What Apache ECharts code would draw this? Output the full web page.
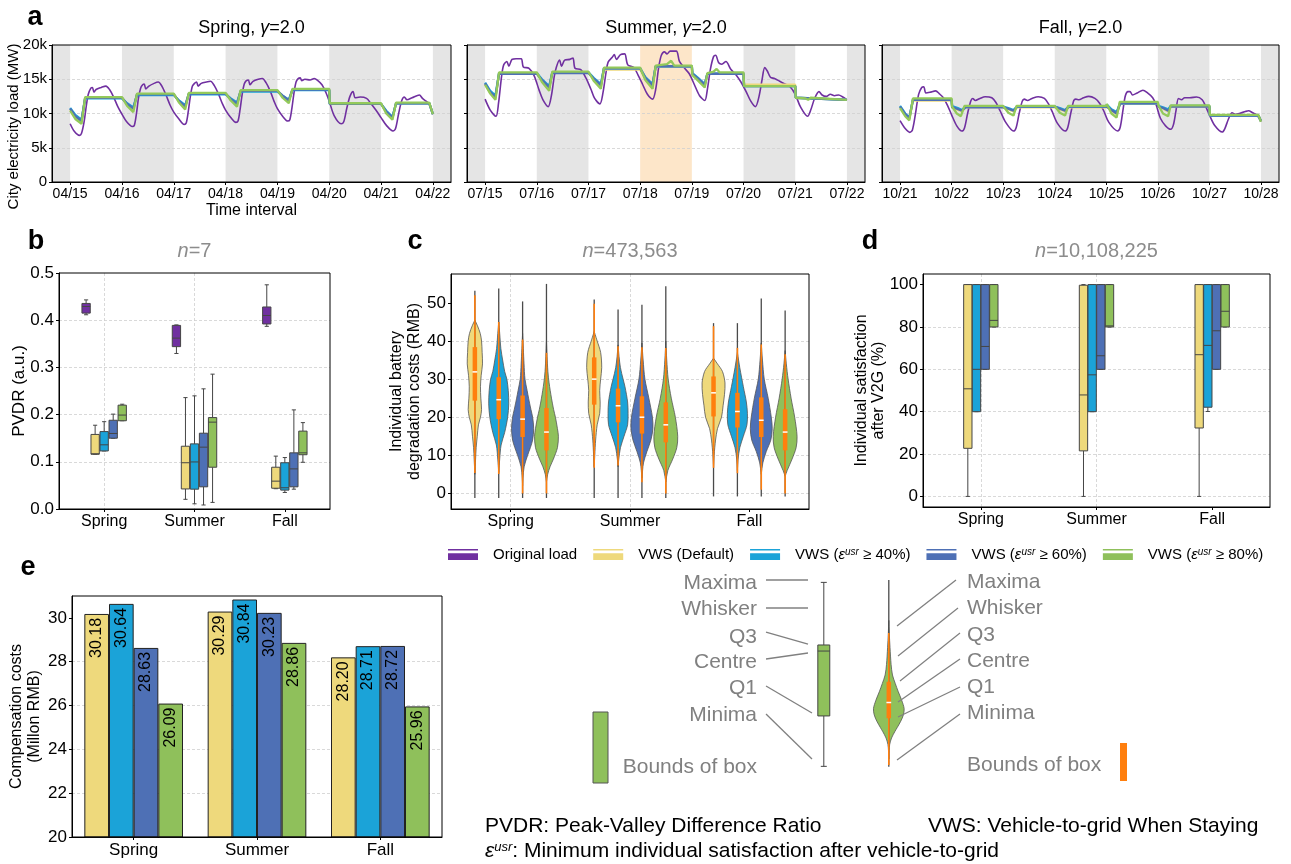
<!DOCTYPE html>
<html><head><meta charset="utf-8">
<script src="https://cdn.jsdelivr.net/npm/echarts@6/dist/echarts.min.js"></script>
<style>html,body{margin:0;padding:0;background:#fff}#c{width:1291px;height:864px}</style>
</head><body><div id="c"></div>
<script>
// ================= DATA =================
const seasons = ['Spring', 'Summer', 'Fall'];
const springDays = ['04/15','04/16','04/17','04/18','04/19','04/20','04/21','04/22'];
const summerDays = ['07/15','07/16','07/17','07/18','07/19','07/20','07/21','07/22'];
const fallDays = ['10/21','10/22','10/23','10/24','10/25','10/26','10/27','10/28'];
const dayTicks = [0,1,2,3,4,5,6,7];
// alternate day shading (in days) and highlighted day for summer
const greyBands = [[-0.35,0],[1,2],[3,4],[5,6],[7,7.35]];
const summerHighlight = [3,4];

// load curves (day, thousand MW)
const springOriginal = [[0,8.5],[0.08,7.4],[0.18,6.8],[0.22,7.1],[0.27,8.8],[0.31,11.0],[0.35,12.8],[0.40,13.7],[0.43,13.8],[0.46,13.1],[0.5,13.5],[0.6,13.8],[0.69,14.0],[0.76,13.5],[0.84,12.4],[0.92,11.0],
[1.0,9.9],[1.08,8.9],[1.2,8.1],[1.24,8.3],[1.28,10.0],[1.32,12.3],[1.36,13.7],[1.40,14.2],[1.43,14.3],[1.46,13.6],[1.52,14.0],[1.62,14.4],[1.70,14.6],[1.77,14.0],[1.85,12.7],[1.93,11.2],
[2.0,10.2],[2.1,9.2],[2.2,8.4],[2.24,8.6],[2.28,10.3],[2.32,12.5],[2.36,14.0],[2.40,14.4],[2.44,14.6],[2.47,14.0],[2.53,14.4],[2.63,14.6],[2.71,14.7],[2.78,14.1],[2.86,12.9],[2.94,11.4],
[3.0,10.5],[3.1,9.4],[3.2,8.7],[3.24,8.9],[3.28,10.6],[3.32,12.8],[3.36,14.3],[3.40,14.8],[3.44,14.9],[3.47,14.2],[3.53,14.7],[3.63,15.0],[3.71,15.1],[3.78,14.5],[3.86,13.3],[3.94,11.7],
[4.0,10.7],[4.1,9.6],[4.2,8.9],[4.24,9.1],[4.28,10.8],[4.32,13.0],[4.36,14.6],[4.40,15.1],[4.44,15.2],[4.47,14.8],[4.53,15.0],[4.63,14.9],[4.71,15.1],[4.78,14.8],[4.86,14.2],[4.94,13.0],
[5.0,11.8],[5.1,9.6],[5.23,8.5],[5.28,8.8],[5.34,10.8],[5.40,12.5],[5.46,13.2],[5.50,12.3],[5.6,12.4],[5.72,12.2],[5.80,11.5],[5.9,10.5],
[6.0,9.4],[6.1,8.3],[6.23,7.45],[6.28,7.8],[6.34,10.0],[6.40,11.9],[6.45,12.4],[6.5,12.0],[6.6,12.3],[6.74,12.7],[6.8,12.2],[6.87,11.8],[6.93,11.4],[7.0,9.9]];
const springDefault = [[0,10.6],[0.1,9.5],[0.22,8.8],[0.29,12.3],[1,12.3],[1.1,11.3],[1.22,10.5],[1.29,12.8],[2,12.8],[2.1,11.8],[2.22,10.9],[2.29,12.9],[3,12.9],[3.1,12.0],[3.22,11.3],[3.29,13.3],[4,13.3],[4.1,12.5],[4.22,11.8],[4.29,13.5],[5,13.5],[5.01,11.4],[6,11.4],[6.1,10.2],[6.22,9.3],[6.29,11.5],[6.93,11.5],[7,9.9]];
const spring40 = [[0,10.8],[0.1,9.8],[0.22,9.1],[0.29,12.2],[1,12.2],[1.1,11.5],[1.22,10.9],[1.29,12.7],[2,12.7],[2.1,11.9],[2.22,11.2],[2.29,12.8],[3,12.8],[3.1,12.2],[3.22,11.6],[3.29,13.2],[4,13.2],[4.1,12.6],[4.22,12.0],[4.29,13.4],[5,13.4],[5.01,11.4],[6,11.4],[6.1,10.4],[6.22,9.5],[6.29,11.5],[6.93,11.5],[7,9.9]];
const spring60 = [[0,10.7],[0.1,9.6],[0.22,8.9],[0.29,12.3],[1,12.3],[1.1,11.4],[1.22,10.7],[1.29,12.8],[2,12.8],[2.1,11.8],[2.22,11.0],[2.29,12.9],[3,12.9],[3.1,12.1],[3.22,11.4],[3.29,13.3],[4,13.3],[4.1,12.6],[4.22,11.9],[4.29,13.5],[5,13.5],[5.01,11.4],[6,11.4],[6.1,10.3],[6.22,9.4],[6.29,11.5],[6.93,11.5],[7,9.9]];
const spring80 = [[0,10.4],[0.1,9.2],[0.22,8.5],[0.29,12.4],[1,12.4],[1.1,11.1],[1.22,10.2],[1.29,12.9],[2,12.9],[2.1,11.6],[2.22,10.6],[2.29,13.0],[3,13.0],[3.1,11.9],[3.22,11.0],[3.29,13.4],[4,13.4],[4.1,12.3],[4.22,11.5],[4.29,13.6],[5,13.6],[5.01,11.5],[6,11.5],[6.1,10.0],[6.22,9.1],[6.29,11.6],[6.93,11.6],[7,9.9]];

const summerOriginal = [[0,12.1],[0.1,10.5],[0.21,9.6],[0.26,11.5],[0.32,15.5],[0.36,17.1],[0.42,17.6],[0.46,16.9],[0.52,17.9],[0.6,18.0],[0.7,18.0],[0.74,16.8],[0.85,16.6],[0.95,15.5],[1.05,13.3],[1.12,12.0],[1.22,11.0],
[1.28,12.5],[1.34,15.5],[1.38,16.8],[1.44,17.8],[1.48,16.9],[1.54,17.8],[1.64,17.9],[1.70,18.1],[1.74,16.6],[1.85,16.4],[1.95,15.2],[2.05,13.5],[2.12,12.2],[2.22,11.4],
[2.28,13.0],[2.34,16.0],[2.38,17.5],[2.46,18.2],[2.5,18.6],[2.54,17.9],[2.62,18.6],[2.70,18.7],[2.76,17.1],[2.88,16.7],[2.96,15.6],[3.05,14.2],[3.14,12.8],[3.24,12.1],
[3.3,13.5],[3.36,16.8],[3.41,18.5],[3.47,19.0],[3.52,18.7],[3.58,19.1],[3.7,19.1],[3.76,17.6],[3.85,16.7],[3.95,15.8],[4.05,14.2],[4.15,12.6],[4.25,11.9],
[4.3,13.5],[4.36,16.5],[4.42,18.3],[4.46,18.5],[4.52,17.4],[4.58,17.2],[4.66,17.6],[4.75,16.5],[4.86,15.6],[4.95,14.6],[5.05,13.2],[5.14,11.8],[5.23,11.0],
[5.3,12.5],[5.36,15.0],[5.41,16.7],[5.46,16.2],[5.52,15.3],[5.6,15.1],[5.7,14.7],[5.8,14.3],[5.9,13.9],[6.0,12.8],[6.1,11.0],[6.24,9.6],
[6.3,10.5],[6.38,12.3],[6.46,13.2],[6.52,12.7],[6.6,12.5],[6.68,12.8],[6.76,12.6],[6.84,12.7],[6.92,12.4],[7.0,12.0]];
const summerDefault = [[0,14.3],[0.1,13.0],[0.2,12.2],[0.27,15.9],[1,15.9],[1.1,14.8],[1.24,13.6],[1.3,16.0],[2,16.0],[2.1,15.0],[2.24,13.9],[2.3,16.4],[3,16.4],[3.1,15.1],[3.24,13.9],[3.3,16.8],[4,16.8],[4.01,15.8],[4.12,15.0],[4.25,14.0],[4.3,15.8],[5,15.8],[5.01,14.2],[6,14.2],[6.01,12.3],[7,12.0]];
const summer40 = [[0,14.5],[0.1,13.3],[0.2,12.6],[0.27,15.9],[1,15.9],[1.1,15.0],[1.24,14.0],[1.3,16.0],[2,16.0],[2.1,15.2],[2.24,14.3],[2.3,16.6],[3,16.6],[3.1,15.3],[3.24,14.3],[3.3,16.9],[4,16.9],[4.01,15.9],[4.12,15.2],[4.25,14.3],[4.3,15.8],[5,15.8],[5.01,14.0],[6,14.0],[6.01,12.3],[7,12.0]];
const summer60 = [[0,14.4],[0.1,13.1],[0.2,12.4],[0.27,15.8],[1,15.8],[1.1,14.9],[1.24,13.8],[1.3,15.9],[2,15.9],[2.1,15.1],[2.24,14.1],[2.3,16.6],[3,16.6],[3.1,15.2],[3.24,14.1],[3.3,16.9],[4,16.9],[4.01,15.8],[4.12,15.1],[4.25,14.2],[4.3,15.8],[5,15.8],[5.01,14.0],[6,14.0],[6.01,12.3],[7,12.0]];
const summer80 = [[0,14.2],[0.1,12.9],[0.2,12.0],[0.27,16.0],[1,16.0],[1.1,14.6],[1.24,13.3],[1.3,16.1],[2,16.1],[2.1,14.8],[2.24,13.6],[2.3,16.7],[3,16.7],[3.1,14.9],[3.24,13.6],[3.3,17.0],[3.52,17.2],[3.6,17.7],[3.66,17.0],[4,17.0],[4.01,15.6],[4.12,14.8],[4.25,13.8],[4.3,15.9],[4.42,16.1],[4.48,16.5],[4.54,16.0],[5,16.0],[5.01,14.0],[6,14.0],[6.01,12.3],[6.2,12.2],[6.25,12.0],[6.3,12.3],[7,12.0]];

const fallOriginal = [[0,8.95],[0.1,7.8],[0.19,7.25],[0.24,7.6],[0.3,10.0],[0.36,12.8],[0.42,13.8],[0.46,13.9],[0.5,13.0],[0.58,13.1],[0.69,13.3],[0.76,12.9],[0.84,12.3],[0.92,11.2],[1.0,9.8],[1.1,8.2],[1.2,7.45],
[1.25,7.9],[1.31,10.0],[1.37,11.8],[1.41,12.2],[1.46,11.9],[1.55,12.2],[1.65,12.45],[1.78,12.3],[1.86,11.6],[1.94,10.4],[2.05,8.7],[2.2,7.45],
[2.25,7.9],[2.31,10.0],[2.37,11.8],[2.41,12.1],[2.47,11.9],[2.56,12.2],[2.68,12.45],[2.8,12.2],[2.88,11.4],[2.95,10.3],[3.05,8.6],[3.2,7.45],
[3.25,7.9],[3.31,10.0],[3.37,11.9],[3.41,12.1],[3.47,12.0],[3.56,12.3],[3.66,12.5],[3.78,12.2],[3.87,11.5],[3.95,10.4],[4.05,8.7],[4.22,7.45],
[4.27,8.0],[4.32,10.3],[4.37,12.6],[4.42,13.2],[4.46,13.2],[4.51,12.7],[4.6,13.0],[4.71,13.4],[4.8,13.0],[4.9,12.3],[4.97,11.2],[5.05,9.3],[5.15,8.2],[5.25,7.7],
[5.3,8.3],[5.35,10.3],[5.4,12.2],[5.46,12.0],[5.52,12.3],[5.62,12.3],[5.75,12.4],[5.86,12.0],[5.93,11.0],[6.0,9.8],[6.1,8.3],[6.25,7.3],
[6.3,7.8],[6.37,9.2],[6.44,10.1],[6.5,9.9],[6.58,10.0],[6.7,10.3],[6.76,10.4],[6.84,10.1],[6.92,9.8],[7.0,8.8]];
const fallDefault = [[0,11.0],[0.1,9.8],[0.18,9.2],[0.25,11.9],[1,11.9],[1.01,10.9],[1.1,10.6],[1.2,10.3],[1.27,10.9],[2,10.9],[2.1,10.6],[2.2,10.3],[2.27,10.9],[3,10.9],[3.1,10.6],[3.2,10.3],[3.27,10.9],[4,10.9],[4.01,11.2],[4.1,10.4],[4.2,9.9],[4.27,11.4],[5,11.4],[5.01,11.0],[5.1,10.7],[5.2,10.3],[5.25,11.0],[6,11.0],[6.01,9.7],[6.95,9.7],[7,8.9]];
const fall40 = [[0,11.1],[0.1,10.0],[0.18,9.4],[0.25,12.0],[1,12.0],[1.01,11.1],[1.12,10.8],[1.2,10.5],[1.27,11.0],[2,11.0],[2.1,10.8],[2.2,10.5],[2.27,11.0],[3,11.0],[3.1,10.8],[3.2,10.5],[3.27,11.0],[4,11.0],[4.01,11.3],[4.1,10.6],[4.2,10.2],[4.27,11.5],[5,11.5],[5.01,11.1],[5.1,10.9],[5.2,10.6],[5.25,11.1],[6,11.1],[6.01,9.7],[6.95,9.7],[7,8.9]];
const fall60 = [[0,11.0],[0.1,9.9],[0.18,9.3],[0.25,12.0],[1,12.0],[1.01,10.9],[1.1,10.7],[1.2,10.4],[1.27,10.9],[2,10.9],[2.1,10.7],[2.2,10.4],[2.27,11.0],[3,11.0],[3.1,10.7],[3.2,10.4],[3.27,11.0],[4,11.0],[4.01,11.2],[4.1,10.5],[4.2,10.0],[4.27,11.5],[5,11.5],[5.01,11.0],[5.1,10.8],[5.2,10.4],[5.25,11.0],[6,11.0],[6.01,9.7],[6.95,9.7],[7,8.9]];
const fall80 = [[0,10.8],[0.1,9.6],[0.18,9.0],[0.25,12.2],[1,12.2],[1.01,11.0],[1.1,10.0],[1.18,9.6],[1.25,11.1],[2,11.1],[2.1,10.1],[2.2,9.7],[2.26,11.1],[3,11.1],[3.1,10.1],[3.2,9.7],[3.26,11.1],[4,11.1],[4.01,11.4],[4.1,10.0],[4.2,9.4],[4.26,11.7],[5,11.7],[5.01,11.2],[5.1,10.0],[5.2,9.6],[5.25,11.2],[6,11.2],[6.01,9.8],[6.95,9.8],[7,8.8]];

// b: PVDR box stats per season [min, q1, median, q3, max]
const pvdrOriginal = [[0.4115,0.415,0.429,0.4355,0.443],[0.3295,0.344,0.362,0.389,0.390],[0.387,0.392,0.410,0.428,0.475]];
const pvdrDefault  = [[0.116,0.116,0.117,0.158,0.1775],[0.0205,0.0425,0.098,0.133,0.236],[0.043,0.044,0.059,0.0885,0.112]];
const pvdr40       = [[0.123,0.123,0.136,0.164,0.185],[0.011,0.042,0.0997,0.138,0.2397],[0.035,0.040,0.045,0.098,0.109]];
const pvdr60       = [[0.150,0.150,0.160,0.188,0.201],[0.0085,0.047,0.131,0.1606,0.2546],[0.042,0.047,0.085,0.119,0.210]];
const pvdr80       = [[0.187,0.187,0.199,0.220,0.222],[0.014,0.0885,0.184,0.1937,0.2857],[0.099,0.115,0.119,0.165,0.183]];

// c: degradation cost violins [whiskLo, q1, median, q3, whiskHi, min, max]
const costDefaultStats = [[5.35,24.35,31.9,38.4,52.0,-1.2,53.2],[6.7,23.3,30.0,35.7,49.8,-1.2,50.9],[6.7,20.2,26.4,30.7,43.9,-0.8,44.7]];
const cost40Stats      = [[5.1,19.5,24.6,30.5,45.0,-1.2,53.8],[7.3,18.65,23.0,27.5,38.6,-1.2,48.3],[5.3,17.3,21.5,26.4,38.2,-0.8,44.7]];
const cost60Stats      = [[0,14.8,19.5,25.7,40.4,-1.2,50.4],[2.9,15.7,20.0,25.5,38.4,-1.2,49.5],[0.97,14.8,19.2,25.2,39.1,-0.8,51.2]];
const cost80Stats      = [[0,11.3,16.1,22.4,36.9,-1.2,55.0],[0,13.4,18.0,23.9,38.2,-1.2,54.4],[0,11.3,16.1,22.1,36.5,-0.8,48.0]];
// density profiles [cost, relative half-width]
const costDefaultShape = [
 [[45.5,0],[44,0.22],[42,0.45],[40,0.56],[37,0.61],[34,0.64],[31,0.53],[28,0.47],[25,0.5],[22,0.56],[20,0.47],[18,0.3],[15,0.2],[12,0.11],[9,0.06],[5,0]],
 [[42.5,0],[41,0.15],[40,0.25],[37,0.54],[33,0.63],[30,0.54],[27,0.46],[24,0.5],[21,0.46],[18,0.25],[14,0.12],[10,0.05],[7,0]],
 [[35.5,0],[34,0.33],[32,0.75],[29,0.96],[26,0.92],[23,0.8],[20,0.67],[17,0.33],[14,0.17],[10,0.05],[7,0]]];
const cost40Shape = [
 [[45,0],[42,0.08],[38,0.18],[35,0.33],[32,0.5],[30,0.68],[27,0.8],[23.5,0.84],[20,0.75],[16,0.5],[12.7,0.2],[9,0.08],[5.5,0]],
 [[39,0],[36,0.08],[33,0.2],[30,0.42],[28,0.58],[24,0.8],[21,0.84],[18,0.8],[15,0.5],[12,0.2],[9,0.06],[7,0]],
 [[37,0],[33,0.2],[28,0.5],[24,0.75],[21,0.84],[18,0.8],[15,0.5],[12,0.2],[9,0.06],[6,0]]];
const cost60Shape = [
 [[42,0],[38,0.06],[34,0.12],[30,0.2],[27,0.38],[25,0.5],[22,0.7],[20,0.84],[17,0.93],[14,0.84],[12,0.65],[10,0.42],[7,0.13],[4,0.03],[2,0]],
 [[39.5,0],[35,0.1],[30,0.25],[25,0.58],[20,0.88],[17,0.92],[14,0.75],[11,0.42],[8,0.13],[4,0]],
 [[39.5,0],[35,0.1],[30,0.25],[25,0.58],[20,0.84],[17,0.92],[14,0.8],[11,0.42],[8,0.13],[5,0]]];
const cost80Shape = [
 [[40,0],[36,0.05],[32,0.12],[29,0.22],[25,0.42],[22,0.6],[20,0.75],[17,0.92],[15,1.0],[12,0.92],[9,0.58],[7,0.3],[5,0.1],[3,0]],
 [[40,0],[35,0.08],[30,0.2],[25,0.46],[20,0.8],[15,1.0],[12,0.92],[9,0.58],[6,0.17],[3,0]],
 [[37.5,0],[34,0.1],[30,0.25],[25,0.5],[20,0.8],[15,1.0],[12,0.92],[9,0.58],[6,0.17],[4.5,0]]];

// d: satisfaction box stats [min, q1, median, q3, max]
const satDefault = [[0,22.7,50.8,100,100],[0,21.5,47.9,99.7,100],[0,32.3,66.9,100,100]];
const sat40      = [[40,40,60,100,100],[40,40,57.4,100,100],[40.1,42.1,71.3,100,100]];
const sat60      = [[60,60,70.8,100,100],[60,60,66.4,100,100],[60,60,78.2,100,100]];
const sat80      = [[80,80,83.1,100,100],[80,80,80.5,100,100],[80,80,87.4,100,100]];

// e: compensation costs (million RMB)
const compDefault = [30.18, 30.29, 28.20];
const comp40      = [30.64, 30.84, 28.71];
const comp60      = [28.63, 30.23, 28.72];
const comp80      = [26.09, 28.86, 25.96];

// schematic example (illustrative)
const exampleBox = [6.5, 30.5, 61.4, 64.3, 94.1];
const exampleViolinStats = [7.1, 29.4, 36.9, 46.8, 70.0, 6.3, 95.2];
const exampleViolinShape = [[76,0],[70,0.03],[63,0.08],[55,0.15],[50,0.24],[46,0.42],[42,0.62],[38,0.84],[34,1.0],[31,0.95],[28,0.78],[25,0.55],[23,0.39],[20,0.18],[17,0.06],[14,0.02],[10,0]];

// ================= STYLE =================
const FONT = '"Liberation Sans", Arial, Helvetica, sans-serif';
const C_ORIG = '#7030a0', C_DEF = '#eed97c', C_40 = '#1ba3d8', C_60 = '#4e70b5', C_80 = '#8fc05b';
const C_LINE80 = '#93c95a';
const ORANGE = '#ff7f0e';
const EDGE = '#454545';
const GRID_LINE = {show:true, showMaxLine:false, lineStyle:{type:[3,2], color:'#cfcfcf', width:0.8}};
const AXIS_LINE = {show:true, onZero:false, lineStyle:{color:'#000', width:1}};
const TICK = {show:true, length:3, lineStyle:{color:'#000', width:1}};

const chart = echarts.init(document.getElementById('c'), null, {renderer:'canvas', width:1291, height:864});

const gridBoxes = [
  {left:52, top:45, width:399, height:137},
  {left:467, top:45, width:398, height:137},
  {left:882, top:45, width:397, height:137},
  {left:59, top:273, width:271, height:236},
  {left:451, top:274, width:358, height:235},
  {left:923, top:274, width:347, height:233},
  {left:72, top:596, width:370, height:241},
  {left:790, top:570, width:130, height:210}
];
const grid = gridBoxes.map((g, i) => Object.assign({}, g, {show: i < 7, z:3, borderColor:'#000', borderWidth:1, backgroundColor:'transparent'}));

const xAxis = [], yAxis = [], series = [];
const aDays = [springDays, summerDays, fallDays];
const aLines = [
  [springOriginal, springDefault, spring40, spring60, spring80],
  [summerOriginal, summerDefault, summer40, summer60, summer80],
  [fallOriginal, fallDefault, fall40, fall60, fall80]
];
const legendNames = ['Original load', 'VWS (Default)', 'VWS40', 'VWS60', 'VWS80'];
const lineColors = [C_ORIG, C_DEF, C_40, C_60, C_LINE80];

for (let i = 0; i < 3; i++) {
  xAxis.push({type:'value', gridIndex:i, min:-0.35, max:7.35, z:1,
    axisLine:AXIS_LINE, axisTick:Object.assign({customValues:dayTicks}, TICK),
    axisLabel:{customValues:dayTicks, formatter:(v) => aDays[i][Math.round(v)], fontSize:14, color:'#000', fontFamily:FONT, margin:5},
    splitLine:{show:false},
    name: i === 0 ? 'Time interval' : '', nameLocation:'middle', nameGap:21, nameMoveOverlap:false,
    nameTextStyle:{fontSize:16, color:'#000', fontFamily:FONT}});
  yAxis.push({type:'value', gridIndex:i, min:0, max:20, interval:5, z:1,
    axisLine:AXIS_LINE, axisTick:TICK,
    axisLabel:{show: i === 0, formatter:(v) => v === 0 ? '0' : v + 'k', fontSize:15, color:'#000', fontFamily:FONT, margin:5},
    splitLine:GRID_LINE,
    name: i === 0 ? 'City electricity load (MW)' : '', nameLocation:'middle', nameGap:31, nameRotate:90, nameMoveOverlap:false,
    nameTextStyle:{fontSize:15, color:'#000', fontFamily:FONT, padding:[0,26,0,0]}});
  // day shading
  const bands = greyBands.map(b => [b[0], b[1], 0]).filter(b => !(i === 1 && b[0] === summerHighlight[0]));
  if (i === 1) bands.push([summerHighlight[0], summerHighlight[1], 1]);
  series.push({type:'custom', xAxisIndex:i, yAxisIndex:i, z:0, silent:true, data:bands,
    renderItem:(params, api) => {
      const p0 = api.coord([api.value(0), 20]);
      const p1 = api.coord([api.value(1), 0]);
      const cs = params.coordSys;
      const x0 = Math.max(p0[0], cs.x), x1 = Math.min(p1[0], cs.x + cs.width);
      return {type:'rect', shape:{x:x0, y:p0[1], width:x1 - x0, height:p1[1] - p0[1]},
        style:{fill: api.value(2) ? '#fde6c9' : '#e5e5e5'}};
    }});
  aLines[i].forEach((d, k) => {
    series.push({type:'line', name:legendNames[k], xAxisIndex:i, yAxisIndex:i, data:d, showSymbol:false,
      smooth: k === 0 ? 0.3 : false, z: 2 + k * 0.01,
      lineStyle:{color:lineColors[k], width: k === 0 ? 1.6 : 2.3}, itemStyle:{color:lineColors[k]}});
  });
}

function catAxisX(gi) {
  return {type:'value', gridIndex:gi, min:-0.5, max:2.5, z:1,
    axisLine:AXIS_LINE, axisTick:Object.assign({customValues:[0,1,2]}, TICK),
    axisLabel:{customValues:[0,1,2], formatter:(v) => seasons[Math.round(v)], fontSize:16, color:'#000', fontFamily:FONT, margin:5},
    splitLine:GRID_LINE};
}
// b
xAxis.push(catAxisX(3));
yAxis.push({type:'value', gridIndex:3, min:0, max:0.5, interval:0.1, z:1, axisLine:AXIS_LINE, axisTick:TICK,
  axisLabel:{formatter:(v) => v.toFixed(1), fontSize:17, color:'#000', fontFamily:FONT, margin:5}, splitLine:GRID_LINE,
  name:'PVDR (a.u.)', nameLocation:'middle', nameGap:31, nameMoveOverlap:false, nameTextStyle:{fontSize:17, color:'#000', fontFamily:FONT}});
// c
xAxis.push(catAxisX(4));
yAxis.push({type:'value', gridIndex:4, min:-4.1, max:57.6, z:1, axisLine:AXIS_LINE,
  axisTick:Object.assign({customValues:[0,10,20,30,40,50]}, TICK),
  axisLabel:{customValues:[0,10,20,30,40,50], fontSize:17, color:'#000', fontFamily:FONT, margin:5}, splitLine:GRID_LINE,
  name:'Individual battery\ndegradation costs (RMB)', nameLocation:'middle', nameGap:27, nameMoveOverlap:false,
  nameTextStyle:{fontSize:16, lineHeight:18, color:'#000', fontFamily:FONT}});
// d
xAxis.push(catAxisX(5));
yAxis.push({type:'value', gridIndex:5, min:-5, max:105, z:1, axisLine:AXIS_LINE,
  axisTick:Object.assign({customValues:[0,20,40,60,80,100]}, TICK),
  axisLabel:{customValues:[0,20,40,60,80,100], fontSize:17, color:'#000', fontFamily:FONT, margin:5}, splitLine:GRID_LINE,
  name:'Individual satisfaction\nafter V2G (%)', nameLocation:'middle', nameGap:36, nameMoveOverlap:false,
  nameTextStyle:{fontSize:16, lineHeight:17, color:'#000', fontFamily:FONT}});
// e
xAxis.push({type:'category', gridIndex:6, data:seasons, z:1, axisLine:AXIS_LINE,
  axisTick:Object.assign({alignWithLabel:true}, TICK),
  axisLabel:{fontSize:17, color:'#000', fontFamily:FONT, margin:5}, splitLine:{show:false}});
yAxis.push({type:'value', gridIndex:6, min:20, max:31, z:1, axisLine:AXIS_LINE,
  axisTick:Object.assign({customValues:[20,22,24,26,28,30]}, TICK),
  axisLabel:{customValues:[20,22,24,26,28,30], fontSize:17, color:'#000', fontFamily:FONT, margin:5}, splitLine:GRID_LINE,
  name:'Compensation costs\n(Millon RMB)', nameLocation:'middle', nameGap:28, nameMoveOverlap:false,
  nameTextStyle:{fontSize:16, lineHeight:18, color:'#000', fontFamily:FONT}});
// schematic
xAxis.push({type:'value', gridIndex:7, min:0, max:1, show:false});
yAxis.push({type:'value', gridIndex:7, min:0, max:100, show:false});

// ---- renderers ----
function boxRenderer(boxW, fill) {
  return function (params, api) {
    const x = api.value(0);
    const c = [1,2,3,4,5].map(k => api.coord([x, api.value(k)]));
    const w = api.size([boxW, 0])[0];
    const cx = c[0][0];
    const ln = {stroke:EDGE, lineWidth:1};
    const cap = w / 4;
    return {type:'group', children:[
      {type:'line', shape:{x1:cx, y1:c[1][1], x2:cx, y2:c[0][1]}, style:ln},
      {type:'line', shape:{x1:cx, y1:c[3][1], x2:cx, y2:c[4][1]}, style:ln},
      {type:'line', shape:{x1:cx - cap, y1:c[0][1], x2:cx + cap, y2:c[0][1]}, style:ln},
      {type:'line', shape:{x1:cx - cap, y1:c[4][1], x2:cx + cap, y2:c[4][1]}, style:ln},
      {type:'rect', shape:{x:cx - w / 2, y:c[3][1], width:w, height:c[1][1] - c[3][1]}, style:{fill:fill, stroke:EDGE, lineWidth:1}},
      {type:'line', shape:{x1:cx - w / 2, y1:c[2][1], x2:cx + w / 2, y2:c[2][1]}, style:ln}
    ]};
  };
}
function violinRenderer(maxHW, fill, shapes, boxPx) {
  return function (params, api) {
    const x = api.value(0);
    const prof = shapes[params.dataIndex];
    const hw = api.size([maxHW, 0])[0];
    const cx = api.coord([x, 0])[0];
    const yOf = (v) => api.coord([x, v])[1];
    const left = prof.map(p => [cx - p[1] * hw, yOf(p[0])]);
    const right = prof.slice().reverse().map(p => [cx + p[1] * hw, yOf(p[0])]);
    const y = (k) => yOf(api.value(k));
    return {type:'group', children:[
      {type:'polygon', shape:{points:left.concat(right), smooth:0.3}, style:{fill:fill, stroke:'#555', lineWidth:0.8}},
      {type:'line', shape:{x1:cx, y1:y(6), x2:cx, y2:y(7)}, style:{stroke:'#4a4a4a', lineWidth:1.3}},
      {type:'line', shape:{x1:cx, y1:y(1), x2:cx, y2:y(5)}, style:{stroke:ORANGE, lineWidth:1.6}},
      {type:'line', shape:{x1:cx, y1:y(2), x2:cx, y2:y(4)}, style:{stroke:ORANGE, lineWidth:boxPx}},
      {type:'line', shape:{x1:cx - 2.4, y1:y(3), x2:cx + 2.4, y2:y(3)}, style:{stroke:'#fff', lineWidth:1.5}}
    ]};
  };
}

// b series
const bOffsets = [-0.2, -0.1, 0, 0.1, 0.2];
[pvdrOriginal, pvdrDefault, pvdr40, pvdr60, pvdr80].forEach((arr, h) => {
  series.push({type:'custom', name:'b' + h, xAxisIndex:3, yAxisIndex:3,
    data: arr.map((s, k) => [k + bOffsets[h]].concat(s)),
    encode:{x:0, y:[1,2,3,4,5]}, renderItem: boxRenderer(0.092, [C_ORIG, C_DEF, C_40, C_60, C_80][h])});
});
// c series
const cOffsets = [-0.3, -0.1, 0.1, 0.3];
[[costDefaultStats, costDefaultShape], [cost40Stats, cost40Shape], [cost60Stats, cost60Shape], [cost80Stats, cost80Shape]].forEach((pair, h) => {
  series.push({type:'custom', name:'c' + h, xAxisIndex:4, yAxisIndex:4,
    data: pair[0].map((s, k) => [k + cOffsets[h]].concat(s)),
    encode:{x:0, y:[1,2,3,4,5,6,7]}, renderItem: violinRenderer(0.1, [C_DEF, C_40, C_60, C_80][h], pair[1], 4.5)});
});
// d series
const dOffsets = [-0.1125, -0.0375, 0.0375, 0.1125];
[satDefault, sat40, sat60, sat80].forEach((arr, h) => {
  series.push({type:'custom', name:'d' + h, xAxisIndex:5, yAxisIndex:5,
    data: arr.map((s, k) => [k + dOffsets[h]].concat(s)),
    encode:{x:0, y:[1,2,3,4,5]}, renderItem: boxRenderer(0.072, [C_DEF, C_40, C_60, C_80][h])});
});
// e series
[compDefault, comp40, comp60, comp80].forEach((arr, h) => {
  series.push({type:'bar', name:'e' + h, xAxisIndex:6, yAxisIndex:6, data:arr, barGap:'0%', barCategoryGap:'20%',
    itemStyle:{color:[C_DEF, C_40, C_60, C_80][h], borderColor:'#222', borderWidth:1},
    label:{show:true, position:'insideTop', rotate:90, align:'right', verticalAlign:'middle', distance:4,
      fontSize:16, color:'#000', fontFamily:FONT, formatter:(p) => p.value.toFixed(2)}});
});
// schematic
const exBoxX = 0.26, exViolinX = 0.76;
series.push({type:'custom', name:'exBox', xAxisIndex:7, yAxisIndex:7, silent:true,
  data:[[exBoxX].concat(exampleBox)], encode:{x:0, y:[1,2,3,4,5]}, renderItem: boxRenderer(0.092, C_80)});
series.push({type:'custom', name:'exViolin', xAxisIndex:7, yAxisIndex:7, silent:true,
  data:[[exViolinX].concat(exampleViolinStats)], encode:{x:0, y:[1,2,3,4,5,6,7]},
  renderItem: violinRenderer(0.118, C_80, [exampleViolinShape], 4.5)});

// ---- annotations ----
const gray = '#808080';
function txt(x, y, text, font, fill, align, rich) {
  return {type:'text', x:x, y:y, silent:true, z:10,
    style:{text:text, font:font, fill:fill || '#000', textAlign:align || 'center', align:align || 'center',
      textVerticalAlign:'middle', verticalAlign:'middle', rich:rich}};
}
function seg(x1, y1, x2, y2) {
  return {type:'line', silent:true, z:10, shape:{x1, y1, x2, y2}, style:{stroke:gray, lineWidth:1.3}};
}
const richGreek = {i:{fontStyle:'italic', fontSize:18, fontFamily:FONT}, t:{fontSize:18, fontFamily:FONT}};
const richN = {i:{fontStyle:'italic', fontSize:20, fontFamily:FONT, fill:'#8c8c8c'}, t:{fontSize:20, fontFamily:FONT, fill:'#8c8c8c'}};
const graphics = [
  txt(35, 18, 'a', 'bold 27px ' + FONT), txt(36, 242, 'b', 'bold 27px ' + FONT), txt(415, 242, 'c', 'bold 27px ' + FONT),
  txt(870, 242, 'd', 'bold 27px ' + FONT), txt(28, 568, 'e', 'bold 27px ' + FONT),
  txt(251.5, 28, '{t|Spring, }{i|γ}{t|=2.0}', '18px ' + FONT, '#000', 'center', richGreek),
  txt(666, 28, '{t|Summer, }{i|γ}{t|=2.0}', '18px ' + FONT, '#000', 'center', richGreek),
  txt(1080.5, 28, '{t|Fall, }{i|γ}{t|=2.0}', '18px ' + FONT, '#000', 'center', richGreek),
  txt(194.5, 251, '{i|n}{t|=7}', '20px ' + FONT, '#8c8c8c', 'center', richN),
  txt(630, 251, '{i|n}{t|=473,563}', '20px ' + FONT, '#8c8c8c', 'center', richN),
  txt(1096.5, 251, '{i|n}{t|=10,108,225}', '20px ' + FONT, '#8c8c8c', 'center', richN)
];
const leftLabels = [['Maxima',583],['Whisker',609],['Q3',637],['Centre',662],['Q1',688],['Minima',715],['Bounds of box',767]];
const rightLabels = [['Maxima',582],['Whisker',608],['Q3',635],['Centre',661],['Q1',687],['Minima',713],['Bounds of box',765]];
leftLabels.forEach(l => graphics.push(txt(757, l[1], l[0], '21px ' + FONT, gray, 'right')));
rightLabels.forEach(l => graphics.push(txt(967, l[1], l[0], '21px ' + FONT, gray, 'left')));
[[766,580,808,580],[766,608,808,608],[766,632,808,644],[766,659,808,653],[766,686,812,713],[766,714,812,759],
 [956,580,897,626],[958,608,898,656],[960,633,900,681],[960,659,898,702],[960,687,898,717],[960,714,897,760]]
  .forEach(s => graphics.push(seg(s[0], s[1], s[2], s[3])));
graphics.push({type:'rect', silent:true, z:10, shape:{x:593, y:712, width:15, height:71}, style:{fill:C_80, stroke:'#555', lineWidth:1}});
graphics.push({type:'rect', silent:true, z:10, shape:{x:1120, y:743, width:7, height:38}, style:{fill:ORANGE}});
const richFoot = {t:{fontSize:21, fontFamily:FONT}, i:{fontSize:21, fontStyle:'italic', fontFamily:FONT}, s:{fontSize:13, fontStyle:'italic', fontFamily:FONT, verticalAlign:'top', lineHeight:12}};
graphics.push(txt(485, 826, 'PVDR: Peak-Valley Difference Ratio', '21px ' + FONT, '#000', 'left'));
graphics.push(txt(928, 826, 'VWS: Vehicle-to-grid When Staying', '21px ' + FONT, '#000', 'left'));
graphics.push(txt(485, 851, '{i|ε}{s|usr}{t|: Minimum individual satisfaction after vehicle-to-grid}', '21px ' + FONT, '#000', 'left', richFoot));

const legendText = {
  'Original load':'Original load', 'VWS (Default)':'VWS (Default)',
  'VWS40':'VWS ({i|ε}{s|usr} ≥ 40%)', 'VWS60':'VWS ({i|ε}{s|usr} ≥ 60%)', 'VWS80':'VWS ({i|ε}{s|usr} ≥ 80%)'
};

chart.setOption({
  animation:false,
  backgroundColor:'#fff',
  textStyle:{fontFamily:FONT},
  grid:grid, xAxis:xAxis, yAxis:yAxis, series:series,
  legend:{left:443, top:542, orient:'horizontal', itemWidth:30, itemHeight:11, itemGap:16, selectedMode:false,
    icon:'path://M0,0H30V1.6H0Z M0,4.2H30V11H0Z', symbolKeepAspect:false,
    data: legendNames.map((n, k) => ({name:n, itemStyle:{color:[C_ORIG, C_DEF, C_40, C_60, C_80][k]}})),
    formatter:(n) => legendText[n],
    textStyle:{fontSize:15, color:'#000', fontFamily:FONT, padding:[0,0,0,10],
      rich:{i:{fontStyle:'italic', fontSize:15, fontFamily:FONT}, s:{fontStyle:'italic', fontSize:10, fontFamily:FONT, verticalAlign:'top', lineHeight:10}}}},
  graphic:{elements:graphics}
});
</script></body></html>
